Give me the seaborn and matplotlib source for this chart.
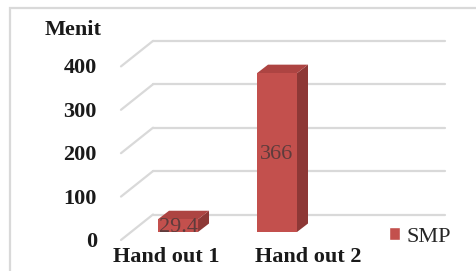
import matplotlib
matplotlib.use("Agg")
import matplotlib.pyplot as plt
from matplotlib.patches import Patch, Polygon, Rectangle
import seaborn as sns
import pandas as pd

# -----------------------------------------------
# DATA
# -----------------------------------------------
categories = ["Hand out 1", "Hand out 2"]
values = [29.4, 366]
value_labels = ["29.4", "366"]
y_ticks = [0, 100, 200, 300, 400]
series_name = "SMP"
y_title = "Menit"

# -----------------------------------------------
# STYLE
# -----------------------------------------------
sns.set_theme(style="white")
plt.rcParams["font.family"] = ["Liberation Serif", "DejaVu Serif"]

FRONT = "#c3504d"
SIDE = "#8d3836"
TOP = "#ad4442"
GRID = "#d9d9d9"
TXT = "#1a1a1a"

W, H = 476, 271
fig = plt.figure(figsize=(W / 100, H / 100), dpi=100)
fig.patch.set_facecolor("white")

# axes = the plane of the bar front faces
ax = fig.add_axes([131 / W, (H - 232) / H, 292 / W, 173.6 / H])

df = pd.DataFrame({"cat": categories, "val": values})
sns.barplot(data=df, x="cat", y="val", color=FRONT, width=40 / 99,
            saturation=1, linewidth=0, ax=ax, zorder=3)

# seaborn resets the limits, so set them afterwards
ax.set_xlim(-0.475, 2.475)
ax.set_ylim(0, 400)
ax.axis("off")

# pixel -> data unit helpers for the fake 3D depth
px_x = (2.475 + 0.475) / 292
px_y = 400 / 173.6

# -----------------------------------------------
# GRID (back wall + side wall diagonals)
# -----------------------------------------------
x0, x1 = ax.get_xlim()
bdx, bdy = 22 * px_x, 17.5 * px_y     # back wall offset
fdx, fdy = -10 * px_x, -8 * px_y      # front edge offset
for v in y_ticks:
    ax.plot([x0 + bdx, x1 + bdx], [v + bdy, v + bdy], color=GRID,
            lw=1.6, clip_on=False, zorder=1)
    ax.plot([x0 + fdx, x0 + bdx], [v + fdy, v + bdy], color=GRID,
            lw=1.6, clip_on=False, zorder=1)
    ax.text(x0 + fdx - 24 * px_x, v + fdy - 2 * px_y, str(v),
            ha="right", va="center", fontsize=16, fontweight="bold",
            color=TXT)

# -----------------------------------------------
# 3D faces of the bars
# -----------------------------------------------
ddx, ddy = 11 * px_x, 8.5 * px_y
for p, lab in zip(ax.patches, value_labels):
    bx, bw, bh = p.get_x(), p.get_width(), p.get_height()
    side = Polygon([(bx + bw, 0), (bx + bw + ddx, ddy),
                    (bx + bw + ddx, bh + ddy), (bx + bw, bh)],
                   closed=True, facecolor=SIDE, edgecolor="none",
                   zorder=2.5, clip_on=False)
    top = Polygon([(bx, bh), (bx + ddx, bh + ddy),
                   (bx + bw + ddx, bh + ddy), (bx + bw, bh)],
                  closed=True, facecolor=TOP, edgecolor="none",
                  zorder=2.5, clip_on=False)
    ax.add_patch(side)
    ax.add_patch(top)
    ax.text(bx + bw / 2, bh / 2 - 1.5 * px_y, lab, ha="center",
            va="center", fontsize=16, color="#5e3c3c", zorder=4)

# category labels
label_shift = [-12, 31]
for i, (cat, s) in enumerate(zip(categories, label_shift)):
    ax.text(i + s * px_x, -25 * px_y, cat, ha="center", va="center",
            fontsize=16, fontweight="bold", color=TXT)

# axis title
fig.text(73 / W, 1 - 30 / H, y_title, ha="center", va="center",
         fontsize=16, fontweight="bold", color=TXT)

# legend
fig.legend(handles=[Patch(facecolor=FRONT, label=series_name)],
           loc="center left", bbox_to_anchor=(389 / W, 1 - 237 / H),
           frameon=False, fontsize=16, handlelength=0.5,
           handleheight=0.5, handletextpad=0.3, borderpad=0,
           borderaxespad=0)

# chart border
fig.patches.append(Rectangle((10 / W, -0.05), 1.1, 1 - 8 / H + 0.05,
                             transform=fig.transFigure, fill=False,
                             edgecolor=GRID, lw=1.6))

plt.savefig("out.png", dpi=100)
plt.close()
